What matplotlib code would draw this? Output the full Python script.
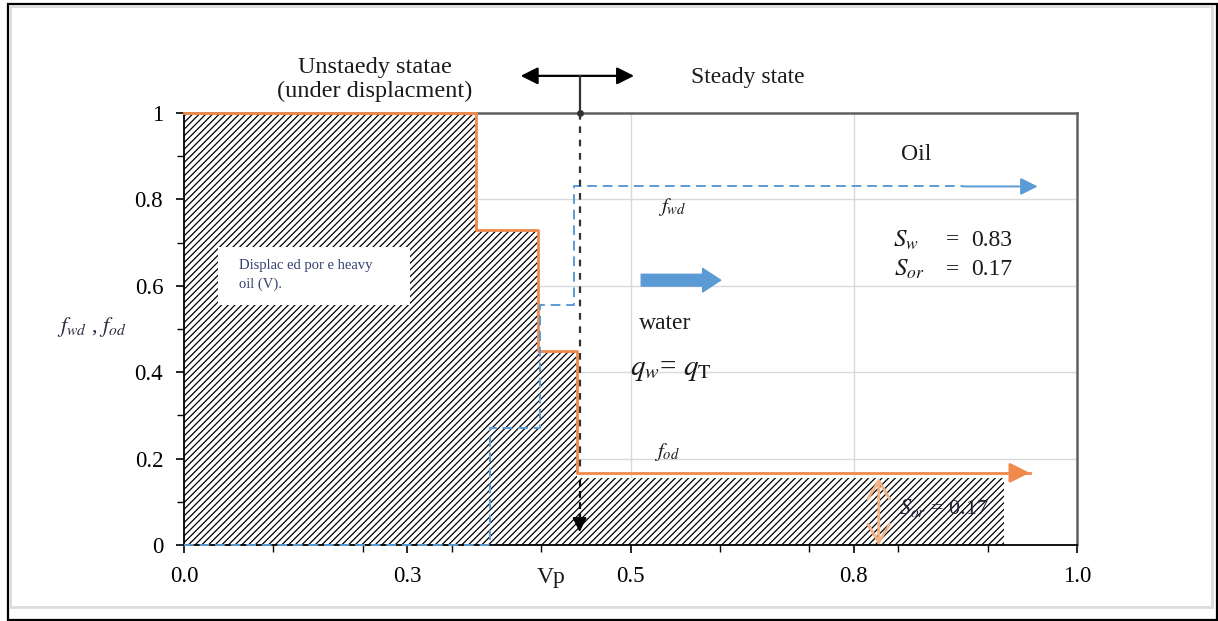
import matplotlib
matplotlib.use("Agg")
import matplotlib.pyplot as plt
from matplotlib.patches import Rectangle
from matplotlib.ticker import MultipleLocator, FixedLocator, FixedFormatter

plt.rcParams['font.family'] = ['Liberation Serif', 'DejaVu Serif']
plt.rcParams['mathtext.fontset'] = 'stix'
plt.rcParams['hatch.linewidth'] = 0.9

# --- data -----------------------------------------------------------------
# oil fractional flow f_od : step edges (pore volume) and levels
fod_x = [0.0, 0.327, 0.396, 0.440]
fod_y = [1.0, 0.73, 0.45, 0.167]
fod_end = 0.947
# displaced heavy-oil region (hatched)
hatch_x = [0.0, 0.327, 0.396, 0.440]
hatch_y = [1.0, 0.73, 0.45, 0.155]
hatch_end = 0.918
# water fractional flow f_wd
fwd_x = [0.0, 0.343, 0.399, 0.437]
fwd_y = [0.0, 0.27, 0.556, 0.83]
fwd_dash_end = 0.872
fwd_end = 0.956
# front position (start of steady state)
vp_front = 0.443
sw_value = 0.83
sor_value = 0.17

x_ticks = [0.0, 0.25, 0.5, 0.75, 1.0]
x_tick_labels = ["0.0", "0.3", "0.5", "0.8", "1.0"]
y_ticks = [0.0, 0.2, 0.4, 0.6, 0.8, 1.0]
y_tick_labels = ["0", "0.2", "0.4", "0.6", "0.8", "1"]

ORANGE = "#F08A4B"
ORANGE_LIGHT = "#F4B183"
BLUE = "#5B9BD5"
TEXT = "#1a1a1a"

W, H = 1218, 621
fig = plt.figure(figsize=(W / 100, H / 100), dpi=100)

# chart frame
fig.add_artist(Rectangle((7.5 / W, 1 - 619.5 / H), 1209 / W, 615.5 / H,
                         transform=fig.transFigure, fill=False,
                         edgecolor="black", lw=1.6))
fig.add_artist(Rectangle((9.5 / W, 1 - 606.5 / H), 1202 / W, 601 / H,
                         transform=fig.transFigure, fill=False,
                         edgecolor="#DCDCDC", lw=2.0))

ax = fig.add_axes([184 / W, 1 - 545 / H, (1077 - 184) / W, (545 - 113) / H])
ax.set_xlim(0, 1)
ax.set_ylim(0, 1)

# grid
for gx in x_ticks[1:-1]:
    ax.axvline(gx, color="#D9D9D9", lw=1.0, zorder=0)
for gy in y_ticks[1:-1]:
    ax.axhline(gy, color="#D9D9D9", lw=1.0, zorder=0)

# spines
for s in ("left", "bottom"):
    ax.spines[s].set_color("black")
    ax.spines[s].set_linewidth(1.3)
for s in ("top", "right"):
    ax.spines[s].set_color("#606060")
    ax.spines[s].set_linewidth(1.8)

ax.xaxis.set_major_locator(FixedLocator(x_ticks))
ax.xaxis.set_major_formatter(FixedFormatter(x_tick_labels))
ax.xaxis.set_minor_locator(MultipleLocator(0.1))
ax.yaxis.set_major_locator(FixedLocator(y_ticks))
ax.yaxis.set_major_formatter(FixedFormatter(y_tick_labels))
ax.yaxis.set_minor_locator(MultipleLocator(0.1))
ax.tick_params(axis="both", which="major", direction="out", length=6,
               width=1.2, labelsize=16.5, colors="black")
ax.tick_params(axis="both", which="minor", direction="out", length=5,
               width=1.0)
ax.tick_params(axis="x", which="major", pad=9)
ax.tick_params(axis="y", which="major", pad=9)

# hatched displaced region
hx = hatch_x + [hatch_end]
hy = hatch_y + [hatch_y[-1]]
ax.fill_between(hx, 0, hy, step="post", facecolor="white",
                edgecolor="black", hatch="/////", lw=0, zorder=1)

# label box inside the hatched region
ax.add_patch(Rectangle((0.038, 0.556), 0.215, 0.134, facecolor="white",
                       edgecolor="none", zorder=2))
ax.text(0.062, 0.625, "Displac ed por e heavy\noil (V).", fontsize=10.5,
        color="#34406e", va="center", ha="left", zorder=3, linespacing=1.5)

# f_od step line
ox = fod_x + [fod_end]
oy = fod_y + [fod_y[-1]]
ax.step(ox, oy, where="post", color=ORANGE, lw=2.0, zorder=4, clip_on=False)
ax.annotate("", xy=(fod_end, fod_y[-1]), xytext=(fod_end - 0.02, fod_y[-1]),
            arrowprops=dict(arrowstyle="-|>", color=ORANGE, lw=2.0,
                            mutation_scale=30, shrinkA=0, shrinkB=0),
            zorder=5)

# f_wd step line
wx = fwd_x + [fwd_dash_end]
wy = fwd_y + [fwd_y[-1]]
ax.step(wx, wy, where="post", color=BLUE, lw=1.4, ls=(0, (5, 3)), zorder=4,
        clip_on=False)
ax.annotate("", xy=(fwd_end, fwd_y[-1]), xytext=(fwd_dash_end, fwd_y[-1]),
            arrowprops=dict(arrowstyle="-|>", color=BLUE, lw=1.4,
                            mutation_scale=26, shrinkA=0, shrinkB=0),
            zorder=5)

# front position marker
ax.plot([vp_front, vp_front], [1.0, 0.18], color="#333333", lw=1.6,
        ls=(0, (3, 3)), zorder=5)
ax.plot([vp_front, vp_front], [0.15, 0.06], color="black", lw=1.6,
        ls=(0, (3, 2)), zorder=5)
ax.annotate("", xy=(vp_front, 0.03), xytext=(vp_front, 0.07),
            arrowprops=dict(arrowstyle="-|>", color="black", lw=1.2,
                            mutation_scale=22, shrinkA=0, shrinkB=0),
            zorder=6)
ax.plot([vp_front, vp_front], [1.0, 1.086], color="#333333", lw=1.6,
        zorder=5, clip_on=False)
ax.plot([vp_front], [1.0], "o", color="#333333", ms=4, zorder=6,
        clip_on=False)
ax.annotate("", xy=(0.377, 1.086), xytext=(0.504, 1.086),
            arrowprops=dict(arrowstyle="<|-|>", color="black", lw=1.6,
                            mutation_scale=26, shrinkA=0, shrinkB=0),
            annotation_clip=False)

# residual oil arrow
ax.annotate("", xy=(0.778, 0.0), xytext=(0.778, hatch_y[-1]),
            arrowprops=dict(arrowstyle="<->,head_length=0.5,head_width=0.3",
                            color=ORANGE_LIGHT, lw=2.0,
                            mutation_scale=26, shrinkA=0, shrinkB=0),
            zorder=6)

# water flow arrow
ax.annotate("", xy=(0.601, 0.613), xytext=(0.512, 0.613),
            arrowprops=dict(arrowstyle="simple,head_length=1.3,head_width=1.7,tail_width=0.85",
                            color=BLUE, mutation_scale=10, shrinkA=0,
                            shrinkB=0),
            zorder=6)

# text annotations
ax.text(0.214, 1.078, "Unstaedy statae\n(under displacment)", fontsize=17.5,
        ha="center", va="center", color=TEXT, linespacing=1.15,
        clip_on=False)
ax.text(0.631, 1.083, "Steady state", fontsize=17, ha="center",
        va="center", color=TEXT, clip_on=False)
ax.text(0.82, 0.903, "Oil", fontsize=17, ha="center", va="center",
        color=TEXT)
ax.text(0.547, 0.782, r"$f_{wd}$", fontsize=15, ha="center", va="center",
        color=TEXT)
ax.text(0.808, 0.706, r"$S_w$", fontsize=18, ha="center", va="center",
        color=TEXT)
ax.text(0.861, 0.706, "=", fontsize=17, ha="center", va="center",
        color=TEXT)
ax.text(0.881, 0.706, f"{sw_value:.2f}", fontsize=17, ha="left",
        va="center", color=TEXT)
ax.text(0.812, 0.637, r"$S_{or}$", fontsize=18, ha="center", va="center",
        color=TEXT)
ax.text(0.861, 0.637, "=", fontsize=17, ha="center", va="center",
        color=TEXT)
ax.text(0.881, 0.637, f"{sor_value:.2f}", fontsize=17, ha="left",
        va="center", color=TEXT)
ax.text(0.539, 0.512, "water", fontsize=17, ha="center", va="center",
        color=TEXT)
ax.text(0.545, 0.405, r"$q_w$= $q_{\mathrm{T}}$", fontsize=21, ha="center",
        va="center", color=TEXT)
ax.text(0.541, 0.215, r"$f_{od}$", fontsize=15, ha="center", va="center",
        color=TEXT)
ax.text(0.851, 0.086, r"$S_{or}$ = " + f"{sor_value:.2f}", fontsize=16,
        ha="center", va="center", color="#22223a", zorder=7)
ax.text(0.411, -0.075, "Vp", fontsize=17, ha="center", va="center",
        color=TEXT, clip_on=False)
ax.text(-0.103, 0.505, r"$f_{wd}$ , $f_{od}$", fontsize=16, ha="center",
        va="center", color="#2a2a40", clip_on=False)

fig.savefig("out.png", dpi=100, facecolor="white")
